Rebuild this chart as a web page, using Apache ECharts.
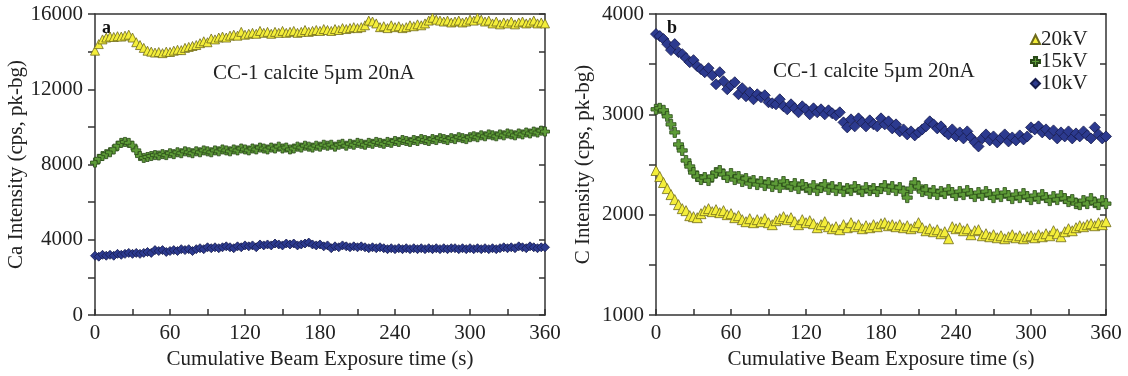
<!DOCTYPE html>
<html>
<head>
<meta charset="utf-8">
<script src="https://cdn.jsdelivr.net/npm/echarts@6/dist/echarts.min.js"></script>
<style>
html,body{margin:0;padding:0;background:#fff;}
#chart{width:1128px;height:376px;}
</style>
</head>
<body>
<div id="chart"></div>
<script>
// Sampling times (s)
var time = [0,3,6,9,12,15,18,21,24,27,30,33,36,39,42,45,48,51,54,57,
60,63,66,69,72,75,78,81,84,87,90,93,96,99,102,105,108,111,114,117,
120,123,126,129,132,135,138,141,144,147,150,153,156,159,162,165,168,171,174,177,
180,183,186,189,192,195,198,201,204,207,210,213,216,219,222,225,228,231,234,237,
240,243,246,249,252,255,258,261,264,267,270,273,276,279,282,285,288,291,294,297,
300,303,306,309,312,315,318,321,324,327,330,333,336,339,342,345,348,351,354,357,360];

var seriesNames = ['20kV','15kV','10kV'];

// Panel a: Ca intensity (cps, pk-bg)
var ca20 = [14050,14400,14650,14750,14800,14780,14820,14800,14850,14900,
14750,14500,14350,14200,14050,14000,13950,13980,13920,14000,
13980,14050,14100,14080,14200,14250,14300,14350,14450,14550,
14500,14700,14650,14750,14800,14750,14850,14900,14850,15050,
14900,14950,15000,14950,15100,15000,15050,14950,15050,15000,
15100,15000,15050,15100,15000,15050,15150,15050,15100,15150,
15100,15200,15150,15100,15200,15150,15250,15200,15250,15300,
15250,15300,15400,15650,15600,15500,15300,15350,15250,15400,
15300,15350,15250,15300,15400,15350,15450,15400,15500,15650,
15800,15700,15650,15600,15650,15550,15600,15650,15550,15600,
15700,15650,15800,15700,15600,15650,15500,15600,15450,15550,
15500,15600,15450,15550,15600,15500,15550,15650,15500,15550,15500];

var ca15 = [8100,8300,8450,8550,8650,8800,9000,9150,9200,9150,
9000,8750,8450,8350,8400,8450,8500,8480,8550,8500,
8600,8550,8650,8600,8700,8650,8600,8700,8650,8750,
8700,8650,8750,8700,8800,8750,8700,8800,8750,8850,
8800,8750,8850,8800,8900,8850,8800,8900,8850,8950,
8850,8900,8800,8850,8950,8900,9000,8950,8900,9000,
8950,9050,9000,9050,8950,9050,9100,9000,9100,9050,
9150,9100,9050,9150,9100,9200,9150,9100,9200,9150,
9250,9200,9300,9250,9200,9300,9250,9350,9300,9250,
9350,9300,9400,9350,9300,9400,9350,9450,9400,9350,
9450,9500,9450,9550,9500,9600,9550,9500,9600,9550,
9650,9600,9550,9650,9600,9700,9650,9750,9700,9800,9750];

var ca10 = [3150,3100,3200,3150,3200,3150,3250,3200,3250,3300,
3250,3300,3250,3300,3350,3300,3450,3400,3450,3350,
3400,3450,3400,3500,3450,3500,3400,3500,3550,3500,
3600,3550,3600,3550,3600,3650,3600,3550,3650,3600,
3700,3650,3700,3600,3750,3700,3750,3700,3800,3750,
3700,3800,3750,3800,3700,3750,3800,3850,3750,3700,
3750,3650,3700,3550,3650,3600,3700,3650,3600,3650,
3600,3650,3600,3550,3600,3550,3600,3550,3500,3550,
3500,3550,3500,3550,3500,3550,3500,3550,3500,3550,
3500,3550,3500,3550,3500,3550,3550,3500,3550,3500,
3550,3500,3550,3500,3550,3500,3550,3500,3550,3600,
3550,3600,3550,3650,3600,3550,3650,3600,3550,3600,3600];

// Panel b: C intensity (cps, pk-bg)
var c20 = [2440,2380,2320,2260,2200,2150,2100,2060,2040,1990,
1980,1970,2010,2040,2060,2030,2050,2020,2040,2000,
2010,1970,1990,1950,1930,1960,1920,1950,1930,1960,
1920,1900,1940,1960,1980,1950,1970,1930,1900,1950,
1920,1940,1910,1870,1900,1930,1880,1860,1880,1850,
1900,1870,1920,1880,1900,1860,1890,1870,1900,1880,
1910,1920,1890,1900,1880,1900,1870,1890,1860,1880,
1920,1870,1840,1860,1830,1850,1810,1830,1760,1880,
1860,1870,1840,1860,1800,1840,1850,1790,1810,1780,
1800,1770,1790,1760,1780,1800,1770,1790,1760,1780,
1790,1770,1800,1780,1810,1790,1840,1810,1780,1830,
1860,1840,1870,1890,1880,1900,1910,1890,1920,1900,1930];

var c15 = [3050,3060,3040,2980,2900,2820,2700,2640,2540,2480,
2420,2380,2350,2370,2340,2380,2420,2440,2400,2370,
2410,2350,2380,2330,2360,2310,2340,2300,2330,2290,
2320,2280,2310,2270,2330,2300,2280,2310,2260,2300,
2270,2250,2290,2240,2270,2300,2250,2280,2240,2270,
2230,2260,2240,2280,2250,2230,2270,2240,2260,2230,
2260,2290,2250,2280,2240,2270,2230,2170,2260,2320,
2280,2230,2250,2210,2240,2200,2230,2210,2250,2220,
2190,2230,2200,2240,2210,2180,2220,2190,2230,2200,
2170,2210,2180,2220,2190,2160,2200,2170,2210,2180,
2150,2190,2160,2200,2170,2140,2180,2150,2190,2160,
2130,2150,2110,2100,2140,2110,2160,2120,2100,2140,2110];

var c10 = [3800,3780,3750,3700,3640,3700,3620,3600,3560,3520,
3540,3480,3450,3420,3460,3390,3300,3420,3330,3250,
3290,3320,3200,3260,3180,3220,3150,3200,3170,3190,
3120,3110,3100,3150,3080,3050,3100,3060,3020,3080,
3050,3000,3060,3020,3050,3000,3040,3010,2990,3020,
2920,2870,2950,2880,2960,2920,2880,2940,2900,2880,
2960,2900,2930,2860,2900,2830,2850,2800,2830,2790,
2820,2850,2880,2930,2900,2860,2880,2830,2800,2850,
2780,2820,2760,2830,2770,2720,2680,2760,2800,2740,
2780,2720,2760,2800,2730,2770,2740,2790,2750,2780,
2870,2850,2880,2820,2850,2800,2840,2760,2820,2780,
2830,2760,2810,2780,2830,2790,2760,2870,2800,2760,2780];

function pairs(v){ return time.map(function(t,i){ return [t, v[i]]; }); }

var FONT = '"Liberation Serif", "DejaVu Serif", serif';
var AX = '#333';
var TXT = '#222';
var plusPath = 'path://M3.3,0H6.7V3.3H10V6.7H6.7V10H3.3V6.7H0V3.3H3.3Z';
var plain = function(v){ return String(v); };

var styles = {
  '20kV': {symbol:'triangle', color:'#f4ee3a', border:'#6e6a1c'},
  '15kV': {symbol:plusPath, color:'#5e9c38', border:'#2a4a18'},
  '10kV': {symbol:'diamond', color:'#2c3a8f', border:'#151b4c'}
};

function mkSeries(name, data, gi, size){
  var s = styles[name];
  return {
    name:name, type:'scatter', xAxisIndex:gi*2, yAxisIndex:gi*2,
    data:pairs(data), symbol:s.symbol, symbolSize:size,
    itemStyle:{color:s.color, borderColor:s.border, borderWidth:0.8, opacity:1},
    emphasis:{disabled:true}, animation:false
  };
}

function xAx(gi){
  return [{
    gridIndex:gi, type:'value', min:0, max:360, interval:60, position:'bottom',
    axisLine:{show:true, onZero:false, lineStyle:{color:AX, width:1.5}},
    axisTick:{show:true, inside:true, length:6, lineStyle:{color:AX, width:1.5}},
    minorTick:{show:true, splitNumber:2, length:6, lineStyle:{color:AX, width:1.5}},
    splitLine:{show:false},
    axisLabel:{fontFamily:FONT, fontSize:21, color:TXT, margin:8, formatter:plain},
    name:'Cumulative Beam Exposure time (s)', nameLocation:'middle', nameGap:31,
    nameTextStyle:{fontFamily:FONT, fontSize:21, color:TXT}
  },{
    gridIndex:gi, type:'value', min:0, max:360, position:'top',
    axisLine:{show:true, onZero:false, lineStyle:{color:AX, width:1.5}},
    axisTick:{show:false}, axisLabel:{show:false}, splitLine:{show:false}
  }];
}

function yAx(gi, min, max, interval, rightInterval, title, gap){
  return [{
    gridIndex:gi, type:'value', min:min, max:max, interval:interval, position:'left',
    axisLine:{show:true, onZero:false, lineStyle:{color:AX, width:1.5}},
    axisTick:{show:true, inside:false, length:7, lineStyle:{color:AX, width:1.5}},
    minorTick:{show:true, splitNumber:2, length:7, lineStyle:{color:AX, width:1.5}},
    splitLine:{show:false},
    axisLabel:{fontFamily:FONT, fontSize:21, color:TXT, margin:12, formatter:plain},
    name:title, nameLocation:'middle', nameGap:gap,
    nameTextStyle:{fontFamily:FONT, fontSize:21, color:TXT}
  },{
    gridIndex:gi, type:'value', min:min, max:max, interval:rightInterval, position:'right',
    axisLine:{show:true, onZero:false, lineStyle:{color:AX, width:1.5}},
    axisTick:{show:true, inside:true, length:6, lineStyle:{color:AX, width:1.5}},
    axisLabel:{show:false}, splitLine:{show:false}
  }];
}

var chart = echarts.init(document.getElementById('chart'), null, {renderer:'canvas'});
var option = {
  backgroundColor:'#ffffff',
  animation:false,
  grid:[
    {left:95, right:583, top:14, bottom:61},
    {left:656, right:22, top:14, bottom:61}
  ],
  xAxis: xAx(0).concat(xAx(1)),
  yAxis: yAx(0, 0, 16000, 4000, 2000, 'Ca Intensity (cps, pk-bg)', 65)
         .concat(yAx(1, 1000, 4000, 1000, 500, 'C Intensity (cps, pk-bg)', 62)),
  legend:{
    show:true, orient:'vertical', left:1025, top:24, itemGap:1,
    itemWidth:9, itemHeight:9,
    data:seriesNames,
    textStyle:{fontFamily:FONT, fontSize:21, color:TXT, padding:[0,0,0,-4]},
    selectedMode:false
  },
  graphic:[
    {type:'text', left:102, top:19, style:{text:'a', font:'bold 18px "Liberation Serif"', fill:'#111'}},
    {type:'text', left:667, top:19, style:{text:'b', font:'bold 18px "Liberation Serif"', fill:'#111'}},
    {type:'text', left:213, top:63, style:{text:'CC-1 calcite 5\u00b5m 20nA', font:'21px "Liberation Serif"', fill:TXT}},
    {type:'text', left:773, top:61, style:{text:'CC-1 calcite 5\u00b5m 20nA', font:'21px "Liberation Serif"', fill:TXT}}
  ],
  series:[
    mkSeries('20kV', ca20, 0, 9),
    mkSeries('15kV', ca15, 0, 9),
    mkSeries('10kV', ca10, 0, 9),
    mkSeries('20kV', c20, 1, 10),
    mkSeries('15kV', c15, 1, 10),
    mkSeries('10kV', c10, 1, 11)
  ]
};
chart.setOption(option);
</script>
</body>
</html>
